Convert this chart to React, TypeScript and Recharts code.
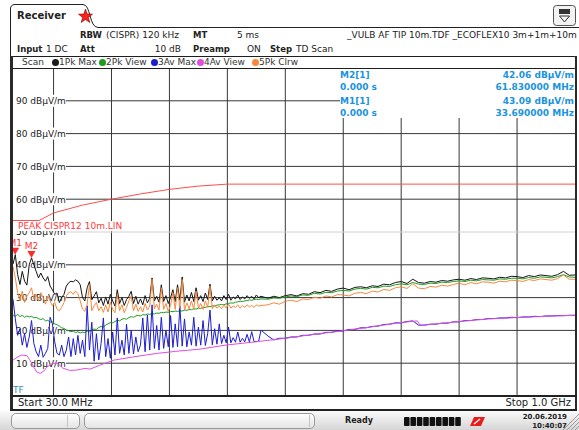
import React from "react";
import {
  LineChart,
  Line,
  XAxis,
  YAxis,
  CartesianGrid,
  ReferenceLine,
  ReferenceDot,
} from "recharts";

const WIDTH = 579;
const HEIGHT = 430;
const PLOT_MARGIN = { top: 68, right: 4, bottom: 34, left: 13 };
const UI_FONT = '"DejaVu Sans", Verdana, sans-serif';

const FREQ_MIN = 30;
const FREQ_MAX = 1000;
const LEVEL_MIN = 0;
const LEVEL_MAX = 100;

// frequency grid (MHz) and level scale (dBµV/m)
const freqGrid = [100, 200, 300, 400, 500, 600, 700, 800, 900];
const levelLabels = [90, 80, 70, 60, 50, 40, 30, 20, 10];
const levelGrid = [10, 20, 30, 40, 60, 70, 80, 90];
const displayLine = 50;

// receiver sweep: 4 MHz steps from 30 MHz, 10 MHz steps from 470 MHz
const lowBandStart = 30;
const lowBandStep = 4;
const highBandStart = 470;
const highBandStep = 10;

// 1Pk Max
const pkMaxLow = [
  40.2, 43.1, 37.0, 34.0, 38.0, 35.0, 33.8, 40.0, 42.1, 40.0,
  38.0, 36.0, 37.5, 36.0, 35.0, 36.4, 33.5, 32.4, 31.0, 31.4,
  28.5, 30.0, 31.0, 33.5, 34.5, 35.0, 34.8, 35.4, 35.0, 33.9,
  30.0, 29.0, 33.0, 34.9, 29.3, 30.5, 31.8, 28.4, 29.8, 27.6,
  30.2, 28.0, 31.0, 29.0, 27.4, 32.4, 28.2, 30.0, 27.6, 29.4,
  30.4, 31.9, 28.2, 30.4, 28.0, 29.6, 27.8, 30.6, 28.4, 29.8,
  36.0, 29.0, 30.4, 28.6, 33.9, 28.8, 30.6, 28.2, 30.0, 32.4,
  28.8, 33.9, 29.2, 36.3, 28.6, 30.8, 29.0, 31.6, 28.8, 33.0,
  29.2, 30.6, 28.8, 31.4, 29.4, 34.1, 29.0, 30.4, 29.2, 30.0,
  29.0, 30.6, 29.4, 31.0, 29.2, 30.2, 29.6, 30.8, 29.4, 30.2,
  29.6, 30.6, 29.8, 30.4, 29.6, 30.8, 30.0, 30.4,
];
const pkMaxHigh = [
  29.8, 30.4, 30.0, 30.6, 30.9, 30.5, 31.2, 31.0, 31.8, 31.5,
  32.2, 31.9, 32.6, 32.9, 32.4, 33.1, 33.3, 33.0, 33.6, 33.4,
  34.1, 33.9, 34.6, 34.9, 34.3, 35.6, 34.6, 34.4, 34.9, 34.7,
  35.2, 35.0, 35.4, 35.6, 35.3, 35.8, 35.5, 36.0, 35.9, 35.7,
  36.2, 36.0, 36.5, 36.4, 36.1, 36.7, 36.4, 36.9, 36.7, 36.5,
  37.0, 38.0, 36.8, 36.9,
];

// 2Pk View
const pkViewLow = [
  24.7, 24.3, 24.9, 24.2, 24.6, 24.0, 24.4, 24.1, 24.3, 23.8,
  24.0, 23.6, 23.3, 23.6, 22.9, 23.1, 22.5, 22.6, 22.0, 21.7,
  21.3, 20.8, 20.6, 20.1, 19.9, 19.6, 19.8, 19.3, 19.6, 19.2,
  19.5, 19.3, 19.8, 19.6, 20.1, 20.4, 20.3, 20.9, 21.2, 21.0,
  21.6, 22.0, 22.4, 22.3, 22.7, 23.1, 22.9, 23.4, 23.6, 23.4,
  23.9, 24.2, 24.0, 24.4, 24.6, 24.4, 24.8, 24.7, 25.0, 24.9,
  25.1, 25.0, 25.3, 25.2, 25.5, 25.4, 25.6, 25.5, 25.8, 25.7,
  25.9, 25.8, 26.0, 25.9, 26.2, 26.1, 26.4, 26.3, 26.6, 26.5,
  26.8, 26.7, 27.0, 27.0, 27.3, 27.2, 27.5, 27.4, 27.7, 27.8,
  27.9, 27.8, 28.1, 28.2, 28.4, 28.3, 28.6, 28.7, 28.9, 28.8,
  29.0, 29.1, 29.3, 29.2, 29.4, 29.5, 29.4, 29.6,
];
const pkViewHigh = [
  29.5, 29.9, 29.8, 30.2, 30.5, 30.3, 30.8, 30.7, 31.3, 31.1,
  31.6, 31.5, 32.0, 32.2, 32.0, 32.6, 32.8, 32.6, 33.1, 33.0,
  33.5, 33.4, 33.9, 34.2, 33.9, 34.6, 34.1, 34.0, 34.4, 34.3,
  34.7, 34.6, 34.9, 35.1, 34.9, 35.3, 35.1, 35.5, 35.4, 35.3,
  35.7, 35.6, 35.9, 35.9, 35.7, 36.1, 35.9, 36.3, 36.2, 36.0,
  36.4, 37.0, 36.3, 36.2,
];

// 3Av Max
const avMaxLow = [
  29.5, 23.5, 18.5, 20.5, 15.5, 19.0, 14.8, 18.0, 23.0, 16.0,
  13.5, 12.0, 15.5, 11.8, 13.0, 14.5, 24.0, 22.0, 16.5, 13.0,
  12.5, 15.5, 12.0, 14.0, 18.0, 12.0, 17.5, 12.5, 18.5, 13.0,
  17.0, 12.0, 27.5, 14.0, 22.5, 10.6, 19.0, 11.0, 16.0, 23.8,
  12.0, 17.5, 11.5, 19.5, 12.5, 23.8, 13.0, 17.0, 12.5, 21.9,
  13.0, 20.0, 12.8, 18.0, 13.5, 15.5, 23.8, 13.5, 24.7, 14.0,
  27.8, 14.5, 21.5, 14.0, 24.0, 14.5, 20.0, 15.0, 24.5, 14.8,
  22.0, 15.0, 27.5, 15.2, 23.5, 15.0, 19.5, 15.5, 24.0, 15.2,
  21.0, 15.5, 23.0, 15.4, 19.0, 26.2, 15.6, 20.5, 15.8, 22.0,
  16.0, 18.5, 16.2, 21.0, 16.2, 17.8, 16.4, 19.5, 16.4, 17.6,
  16.5, 18.8, 16.5, 19.6, 16.6, 16.6, 16.7, 20.1,
];
const avMaxHigh = [
  18.3, 17.1, 17.6, 17.6, 18.0, 18.0, 18.5, 18.5, 18.9, 18.9,
  19.4, 19.4, 19.8, 19.8, 20.3, 20.3, 20.8, 20.8, 21.2, 21.3,
  21.8, 21.9, 22.3, 22.3, 22.7, 22.9, 21.6, 21.6, 21.9, 21.9,
  22.2, 22.2, 22.6, 22.6, 23.0, 23.0, 23.3, 23.3, 23.6, 23.6,
  23.8, 23.8, 24.0, 23.9, 24.1, 24.1, 24.3, 24.2, 24.4, 24.4,
  24.5, 24.5, 24.6, 24.6,
];

// 5Pk Clrw
const pkClrwLow = [
  39.5, 36.0, 31.5, 29.0, 32.0, 28.5, 30.5, 31.5, 33.0, 29.5,
  31.0, 29.0, 31.5, 30.0, 28.0, 30.5, 29.0, 27.5, 28.5, 26.5,
  26.0, 27.0, 28.5, 30.5, 31.5, 31.8, 31.0, 32.0, 31.2, 29.0,
  26.5, 25.8, 28.0, 34.0, 26.0, 27.5, 28.5, 26.0, 27.2, 25.5,
  27.8, 25.6, 28.6, 26.4, 25.4, 31.0, 26.0, 27.8, 25.4, 27.0,
  29.0, 30.5, 26.0, 28.0, 25.8, 27.2, 25.6, 28.2, 26.2, 27.4,
  35.6, 26.6, 28.0, 26.2, 33.0, 26.4, 28.2, 25.8, 27.6, 31.5,
  26.4, 33.0, 26.8, 35.5, 26.2, 28.4, 26.6, 29.0, 26.4, 32.0,
  26.8, 28.2, 26.4, 29.0, 27.0, 33.5, 26.6, 27.8, 26.8, 27.4,
  26.6, 27.8, 26.8, 28.0, 26.8, 27.4, 27.0, 27.8, 26.8, 27.6,
  27.0, 27.8, 27.2, 27.6, 27.0, 27.8, 27.4, 27.6,
];
const pkClrwHigh = [
  27.8, 28.4, 28.0, 28.9, 29.2, 28.8, 29.6, 29.4, 30.1, 29.8,
  30.5, 30.2, 30.9, 30.8, 30.5, 31.3, 31.6, 31.2, 32.0, 31.7,
  32.5, 32.2, 33.0, 33.3, 32.8, 34.2, 32.9, 32.7, 33.4, 33.2,
  33.8, 33.5, 34.0, 34.4, 33.9, 34.6, 34.2, 34.8, 34.7, 34.4,
  35.0, 34.8, 35.3, 35.2, 34.9, 35.5, 35.2, 35.7, 35.5, 35.3,
  35.8, 36.9, 35.6, 35.6,
];

// 4Av View (smooth trace, own frequency points)
const avViewFreqs = [
  30, 37, 45, 54, 59, 66, 71, 77, 83, 89,
  99, 108, 116, 128, 140, 154, 163, 180, 203, 237,
  279, 310, 353, 396, 448, 500, 550, 600, 650, 700,
  728, 733, 750, 800, 850, 900, 950, 1000,
];
const avViewLevels = [
  10.9, 11.8, 12.5, 12.3, 11.0, 8.8, 7.3, 6.9, 7.6, 8.9,
  10.0, 9.8, 8.5, 7.8, 7.9, 8.4, 8.2, 9.4, 10.9, 11.9,
  13.0, 13.6, 14.3, 15.5, 16.5, 17.6, 18.8, 19.9, 21.1, 22.4,
  22.9, 21.5, 21.8, 22.7, 23.5, 23.9, 24.3, 24.6,
];

// PEAK CISPR12 10m limit line
const limitFreqs = [30, 75, 100, 150, 200, 250, 300, 350, 400, 1000];
const limitLevels = [53.5, 53.5, 55.8, 58.2, 60.0, 61.6, 63.0, 64.0, 64.6, 64.6];
const limitName = "PEAK CISPR12 10m.LIN";

const markers = [
  { name: "M2", trace: 1, freq: 61.83, level: 42.06 },
  { name: "M1", trace: 1, freq: 33.69, level: 43.09 },
];

const traceLegend = [
  { label: "1Pk Max", color: "#1a1a1a", x: 55 },
  { label: "2Pk View", color: "#1f9a1f", x: 102 },
  { label: "3Av Max", color: "#1c1cd0", x: 154 },
  { label: "4Av View", color: "#e04ee0", x: 200 },
  { label: "5Pk Clrw", color: "#f5883c", x: 255 },
];

const pkMax = [...pkMaxLow, ...pkMaxHigh];
const pkView = [...pkViewLow, ...pkViewHigh];
const avMax = [...avMaxLow, ...avMaxHigh];
const pkClrw = [...pkClrwLow, ...pkClrwHigh];
const sweepFreqs = [
  ...pkMaxLow.map((_, i) => lowBandStart + i * lowBandStep),
  ...pkMaxHigh.map((_, i) => highBandStart + i * highBandStep),
];
const sweepRows = sweepFreqs.map((f, i) => ({
  f,
  pkMax: pkMax[i],
  pkView: pkView[i],
  avMax: avMax[i],
  pkClrw: pkClrw[i],
}));
const avViewRows = avViewFreqs.map((f, i) => ({ f, avView: avViewLevels[i] }));
const limitRows = limitFreqs.map((f, i) => ({ f, limit: limitLevels[i] }));

const LevelTick = (props: any) => {
  const { y, payload } = props;
  return (
    <g>
      <rect x={13} y={y - 6} width={53} height={12} fill="#ffffff" />
      <text x={16} y={y + 3.3} fontSize={9} fontFamily={UI_FONT} fill="#222">
        {`${payload.value} dBµV/m`}
      </text>
    </g>
  );
};

const markerShape = (name: string) => (p: any) => {
  const { cx, cy } = p;
  return (
    <g>
      <path d={`M${cx - 4},${cy - 7} L${cx + 4},${cy - 7} L${cx},${cy} Z`} fill="#ff2a2a" />
      <text x={cx} y={cy - 9} textAnchor="middle" fontSize={9} fontFamily={UI_FONT} fill="#ff3030">
        {name}
      </text>
    </g>
  );
};

type TxtProps = {
  x: number;
  cy: number;
  size?: number;
  bold?: boolean;
  color?: string;
  align?: "left" | "right";
  children: React.ReactNode;
};

function Txt({ x, cy, size = 9, bold = false, color = "#222", align = "left", children }: TxtProps) {
  const lh = size + 4;
  const style: React.CSSProperties = {
    position: "absolute",
    top: cy - lh / 2,
    fontSize: size,
    lineHeight: `${lh}px`,
    fontWeight: bold ? 700 : 400,
    color,
    whiteSpace: "nowrap",
    fontFamily: UI_FONT,
  };
  if (align === "right") style.right = WIDTH - x;
  else style.left = x;
  return <div style={style}>{children}</div>;
}

const box = (l: number, t: number, w: number, h: number, extra: React.CSSProperties = {}) => (
  <div style={{ position: "absolute", left: l, top: t, width: w, height: h, boxSizing: "border-box", ...extra }} />
);

const axisProps = {
  x: { type: "number" as const, dataKey: "f", domain: [FREQ_MIN, FREQ_MAX], allowDataOverflow: true },
  y: { type: "number" as const, domain: [LEVEL_MIN, LEVEL_MAX], allowDataOverflow: true },
};

export default function App() {
  const infoColor = "#1b93de";
  return (
    <div
      style={{
        position: "absolute",
        left: 0,
        top: 0,
        width: WIDTH,
        height: HEIGHT,
        background: "#ffffff",
        overflow: "hidden",
        fontFamily: UI_FONT,
      }}
    >
      {/* grid, level scale, limit line */}
      <LineChart width={WIDTH} height={HEIGHT} margin={PLOT_MARGIN} style={{ position: "absolute", left: 0, top: 0 }}>
        <CartesianGrid stroke="#383838" horizontalValues={levelGrid} verticalValues={freqGrid} />
        <ReferenceLine y={displayLine} stroke="#d2d2d2" />
        <Line data={limitRows} dataKey="limit" stroke="#ff4d4d" strokeWidth={1} dot={false} isAnimationActive={false} />
        <XAxis {...axisProps.x} ticks={freqGrid} hide />
        <YAxis
          {...axisProps.y}
          ticks={levelLabels}
          interval={0}
          mirror
          axisLine={false}
          tickLine={false}
          tick={<LevelTick />}
        />
      </LineChart>

      {/* marker readout panel */}
      {box(340, 69, 235, 49, { background: "#ffffff" })}

      {/* limit line name */}
      <div
        style={{
          position: "absolute",
          left: 15,
          top: 221,
          height: 10,
          paddingLeft: 3,
          paddingRight: 2,
          background: "#fff",
          color: "#ff3b3b",
          fontSize: 9,
          lineHeight: "10px",
          whiteSpace: "nowrap",
          fontFamily: UI_FONT,
        }}
      >
        {limitName}
      </div>

      {/* traces and markers */}
      <LineChart
        width={WIDTH}
        height={HEIGHT}
        margin={PLOT_MARGIN}
        data={sweepRows}
        style={{ position: "absolute", left: 0, top: 0 }}
      >
        <XAxis {...axisProps.x} hide />
        <YAxis {...axisProps.y} hide />
        <Line dataKey="pkMax" stroke="#141414" strokeWidth={1} dot={false} isAnimationActive={false} />
        <Line dataKey="pkView" stroke="#1f9a1f" strokeWidth={1} dot={false} isAnimationActive={false} />
        <Line dataKey="avMax" stroke="#1c1cd0" strokeWidth={1} dot={false} isAnimationActive={false} />
        <Line data={avViewRows} dataKey="avView" stroke="#e04ee0" strokeWidth={1} dot={false} isAnimationActive={false} />
        <Line dataKey="pkClrw" stroke="#f5883c" strokeWidth={1} dot={false} isAnimationActive={false} />
        {markers.map((m) => (
          <ReferenceDot key={m.name} x={m.freq} y={m.level} r={4} shape={markerShape(m.name)} />
        ))}
      </LineChart>

      {/* instrument frame */}
      <div style={{ position: "absolute", left: 0, top: 0, width: WIDTH, height: HEIGHT, pointerEvents: "none" }}>
        <svg width={WIDTH} height={60} style={{ position: "absolute", left: 0, top: 0 }}>
          <path d="M10.5,60 L10.5,9 Q10.5,4.5 15,4.5 L83,4.5 C91,4.5 89,27.5 98,27.5 L579,27.5" fill="none" stroke="#222" strokeWidth={1} />
          <polygon
            points="85.5,9 87.2,14 92.5,14.2 88.3,17.4 89.8,22.5 85.5,19.5 81.2,22.5 82.7,17.4 78.5,14.2 83.8,14"
            fill="#ff1f1f"
            stroke="#7a0000"
            strokeWidth={0.6}
          />
          <rect x={553.5} y={5.5} width={22} height={20} rx={3} fill="#f2f2f2" stroke="#555" />
          <rect x={559} y={9} width={11} height={5} fill="#333" />
          <path d="M559.5,16 L569.5,16 L564.5,22 Z" fill="none" stroke="#333" strokeWidth={1} />
        </svg>
        <Txt x={17} cy={16} size={10} bold>Receiver</Txt>

        <Txt x={80} cy={35} size={8.5} bold>RBW</Txt>
        <Txt x={106} cy={35}>(CISPR) 120 kHz</Txt>
        <Txt x={193} cy={35} size={8.5} bold>MT</Txt>
        <Txt x={237} cy={35}>5 ms</Txt>
        <Txt x={347} cy={35}>_VULB AF TIP 10m.TDF _ECOFLEX10 3m+1m+10m</Txt>

        <Txt x={17} cy={49} size={8.5} bold>Input</Txt>
        <Txt x={46} cy={49}>1 DC</Txt>
        <Txt x={80} cy={49} size={8.5} bold>Att</Txt>
        <Txt x={181} cy={49} align="right">10 dB</Txt>
        <Txt x={193} cy={49} size={8.5} bold>Preamp</Txt>
        <Txt x={247} cy={49}>ON</Txt>
        <Txt x={270} cy={49} size={8.5} bold>Step</Txt>
        <Txt x={296} cy={49}>TD Scan</Txt>

        {box(10, 56, 567, 13, { border: "1px solid #1e1e1e", borderRadius: 3, background: "#fff" })}
        <Txt x={22} cy={62.5} color="#333">Scan</Txt>
        {traceLegend.map((t) => (
          <React.Fragment key={t.label}>
            {box(t.x - 3.5, 59, 7, 7, { borderRadius: "50%", background: t.color })}
            <Txt x={t.x + 4} cy={62.5} color="#333">{t.label}</Txt>
          </React.Fragment>
        ))}

        {box(0, 69, 10, 343, { background: "#fff" })}
        {box(10, 56, 3, 355, { background: "#2a2a2a" })}
        {box(575, 56, 2, 355, { background: "#2a2a2a" })}
        {box(10, 395, 567, 2, { background: "#222" })}
        {box(10, 409, 567, 2, { background: "#222" })}

        {markers.map((m, i) => (
          <React.Fragment key={m.name}>
            <Txt x={340} cy={75 + i * 26} bold color={infoColor}>{`${m.name}[${m.trace}]`}</Txt>
            <Txt x={574} cy={75 + i * 26} bold color={infoColor} align="right">{`${m.level.toFixed(2)} dBµV/m`}</Txt>
            <Txt x={340} cy={87.5 + i * 26} bold color={infoColor}>0.000 s</Txt>
            <Txt x={574} cy={87.5 + i * 26} bold color={infoColor} align="right">{`${m.freq.toFixed(6)} MHz`}</Txt>
          </React.Fragment>
        ))}

        <Txt x={13} cy={390} color="#3192b6">TF</Txt>

        <Txt x={18} cy={403} size={10}>Start 30.0 MHz</Txt>
        <Txt x={571} cy={403} size={10} align="right">Stop 1.0 GHz</Txt>

        {box(0, 411, WIDTH, 19, { background: "linear-gradient(#fafafa, #d6d6d6)" })}
        {box(11, 413, 69, 16, { border: "1px solid #9a9a9a", borderRadius: 5, background: "linear-gradient(#ffffff, #e4e4e4)" })}
        {box(67, 415, 1, 12, { background: "#c4c4c4" })}
        {box(84, 413, 231, 16, { border: "1px solid #9a9a9a", borderRadius: 5, background: "linear-gradient(#ffffff, #e4e4e4)" })}
        {box(309, 415, 1, 12, { background: "#c4c4c4" })}
        <Txt x={345} cy={421} size={8} bold color="#222">Ready</Txt>
        <svg width={120} height={18} style={{ position: "absolute", left: 400, top: 412 }}>
          {[0, 1, 2, 3, 4, 5, 6, 7, 8].map((k) => (
            <rect key={k} x={4 + k * 6.4} y={5} width={5.6} height={9} rx={1} fill="#111" />
          ))}
          <path d="M70,14 L74,5 L85,5 L81,14 Z" fill="#e81c1c" />
          <path d="M74,12 L80,7" stroke="#fff" strokeWidth={1.2} />
        </svg>
        <Txt x={567} cy={417} size={7} bold color="#222" align="right">20.06.2019</Txt>
        <Txt x={567} cy={426} size={7} bold color="#222" align="right">10:40:07</Txt>
        <svg width={16} height={16} style={{ position: "absolute", left: 563, top: 414 }}>
          {[4, 8, 12, 16].map((d) => (
            <line key={d} x1={16 - d} y1={16} x2={16} y2={16 - d} stroke="#8a8a8a" strokeWidth={0.8} />
          ))}
        </svg>
      </div>
    </div>
  );
}
